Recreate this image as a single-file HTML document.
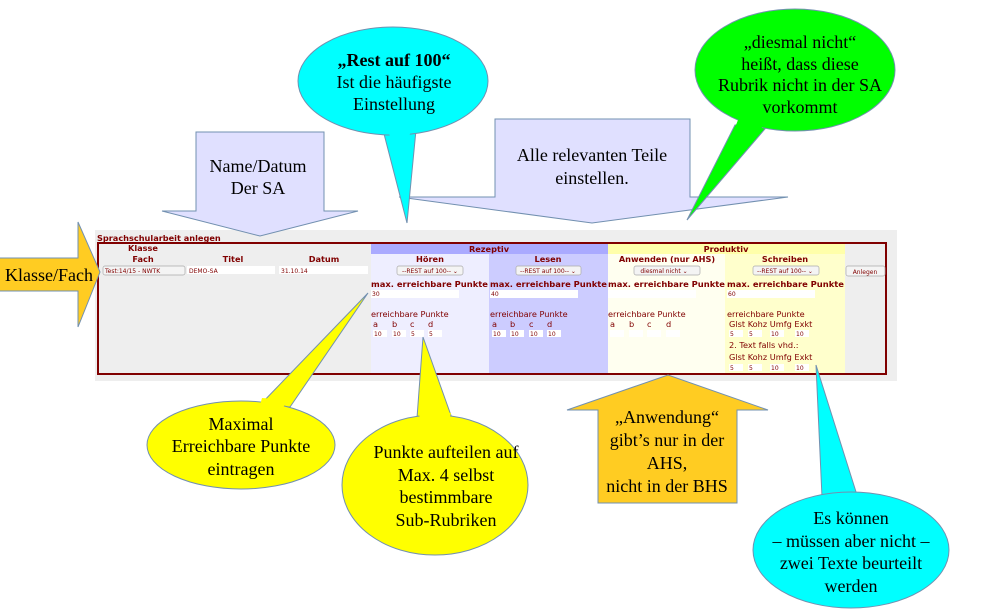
<!DOCTYPE html>
<html><head><meta charset="utf-8"><style>
html,body{margin:0;padding:0;background:#fff;width:988px;height:616px;overflow:hidden}
svg{display:block}
.s{font-family:"Liberation Serif",serif;font-size:18px;fill:#000;text-anchor:middle}
.t{font-family:"DejaVu Sans","Liberation Sans",sans-serif;font-size:8.2px;fill:#800000}
.b{font-weight:bold}
.c{text-anchor:middle}
.i{font-family:"DejaVu Sans",sans-serif;font-size:6px;fill:#800000}
</style></head><body>
<svg width="988" height="616" viewBox="0 0 988 616" xmlns="http://www.w3.org/2000/svg">
<rect x="95" y="230" width="802" height="151" fill="#eeeeee"/>
<text x="97" y="241" class="t b" font-size="9.5">Sprachschularbeit anlegen</text>
<rect x="371" y="244" width="237" height="10" fill="#aaaaff"/>
<rect x="608" y="244" width="237" height="10" fill="#ffffaa"/>
<rect x="371" y="254" width="118" height="120" fill="#eeeeff"/>
<rect x="489" y="254" width="119" height="120" fill="#ccccff"/>
<rect x="608" y="254" width="117" height="120" fill="#fffff0"/>
<rect x="725" y="254" width="120" height="120" fill="#ffffcc"/>
<rect x="98" y="243" width="788" height="131" fill="none" stroke="#800000" stroke-width="2"/>
<text x="489" y="252" class="t b c">Rezeptiv</text>
<text x="726" y="252" class="t b c">Produktiv</text>
<text x="143" y="251" class="t b c">Klasse</text>
<text x="143" y="262" class="t b c">Fach</text>
<text x="233" y="262" class="t b c">Titel</text>
<text x="324" y="262" class="t b c">Datum</text>
<text x="430" y="262" class="t b c">Hören</text>
<text x="548" y="262" class="t b c">Lesen</text>
<text x="667" y="262" class="t b c">Anwenden (nur AHS)</text>
<text x="785" y="262" class="t b c">Schreiben</text>
<g fill="#f4f4f4" stroke="#aaa" stroke-width="0.7">
<rect x="103" y="266" width="82" height="9" rx="2"/>
<rect x="397" y="266" width="66" height="9" rx="2"/>
<rect x="516" y="266" width="65" height="9" rx="2"/>
<rect x="634" y="266" width="66" height="9" rx="2"/>
<rect x="753" y="266" width="66" height="9" rx="2"/>
<rect x="846" y="266" width="39" height="10" rx="2"/>
</g>
<text x="105" y="273" class="i">Test:14/15 - NWTK</text>
<text x="430" y="273" class="i c">--REST auf 100-- ⌄</text>
<text x="548" y="273" class="i c">--REST auf 100-- ⌄</text>
<text x="664" y="273" class="i c" fill="#777">diesmal nicht ⌄</text>
<text x="785" y="273" class="i c">--REST auf 100-- ⌄</text>
<text x="865" y="274" class="i c" fill="#555">Anlegen</text>
<g fill="#fff">
<rect x="187" y="266" width="88" height="8"/>
<rect x="279" y="266" width="89" height="8"/>
<rect x="371" y="290" width="88" height="8"/>
<rect x="490" y="290" width="88" height="8"/>
<rect x="608" y="290" width="88" height="8"/>
<rect x="727" y="290" width="88" height="8"/>
</g>
<text x="189" y="273" class="i">DEMO-SA</text>
<text x="281" y="273" class="i">31.10.14</text>
<text x="371" y="287" class="t b" textLength="117" lengthAdjust="spacingAndGlyphs">max. erreichbare Punkte</text>
<text x="490" y="287" class="t b" textLength="117" lengthAdjust="spacingAndGlyphs">max. erreichbare Punkte</text>
<text x="608" y="287" class="t b" textLength="117" lengthAdjust="spacingAndGlyphs">max. erreichbare Punkte</text>
<text x="727" y="287" class="t b" textLength="117" lengthAdjust="spacingAndGlyphs">max. erreichbare Punkte</text>
<text x="372" y="296" class="i">30</text>
<text x="491" y="296" class="i">40</text>
<text x="728" y="296" class="i">60</text>
<text x="371" y="317" class="t">erreichbare Punkte</text>
<text x="490" y="317" class="t">erreichbare Punkte</text>
<text x="608" y="317" class="t">erreichbare Punkte</text>
<text x="727" y="317" class="t">erreichbare Punkte</text>
<g class="t">
<text x="373" y="327">a</text><text x="392" y="327">b</text><text x="410" y="327">c</text><text x="428" y="327">d</text>
<text x="492" y="327">a</text><text x="510" y="327">b</text><text x="529" y="327">c</text><text x="547" y="327">d</text>
<text x="610" y="327">a</text><text x="629" y="327">b</text><text x="647" y="327">c</text><text x="666" y="327">d</text>
</g>
<text x="729" y="327" class="t">Glst Kohz Umfg Exkt</text>
<text x="729" y="348" class="t">2. Text falls vhd.:</text>
<text x="729" y="360" class="t">Glst Kohz Umfg Exkt</text>
<g fill="#fff">
<rect x="373" y="330" width="14" height="7"/><rect x="392" y="330" width="14" height="7"/><rect x="410" y="330" width="14" height="7"/><rect x="428" y="330" width="14" height="7"/>
<rect x="492" y="330" width="14" height="7"/><rect x="510" y="330" width="14" height="7"/><rect x="529" y="330" width="14" height="7"/><rect x="547" y="330" width="14" height="7"/>
<rect x="610" y="330" width="14" height="7"/><rect x="629" y="330" width="14" height="7"/><rect x="647" y="330" width="14" height="7"/><rect x="666" y="330" width="14" height="7"/>
<rect x="729" y="330" width="14" height="7"/><rect x="748" y="330" width="14" height="7"/><rect x="770" y="330" width="14" height="7"/><rect x="795" y="330" width="14" height="7"/>
<rect x="729" y="364" width="14" height="7"/><rect x="748" y="364" width="14" height="7"/><rect x="770" y="364" width="14" height="7"/><rect x="795" y="364" width="14" height="7"/>
</g>
<g class="i" font-size="5.5">
<text x="374" y="336">10</text><text x="393" y="336">10</text><text x="411" y="336">5</text><text x="429" y="336">5</text>
<text x="493" y="336">10</text><text x="511" y="336">10</text><text x="530" y="336">10</text><text x="548" y="336">10</text>
<text x="730" y="336">5</text><text x="749" y="336">5</text><text x="771" y="336">10</text><text x="796" y="336">10</text>
<text x="730" y="370">5</text><text x="749" y="370">5</text><text x="771" y="370">10</text><text x="796" y="370">10</text>
</g>

<g stroke="#7290b0" stroke-width="1">
<path d="M196,132 H324 V211 H358 L260,236 L162,211 H196 Z" fill="#e0e0ff"/>
<path d="M495,119 H690 V197 H788 L592,223 L399,197 H495 Z" fill="#e0e0ff"/>
<path d="M0,258 H78 V222 L100,272 L78,327 V291 H0" fill="#ffcc22"/>
<path d="M598,503 V410 H567 L668,375 L768,410 H737 V503 Z" fill="#ffcc22"/>
<!-- tails -->
<polygon points="383,130 416,130 407,223" fill="#00ffff"/>
<polygon points="735,125 770,123 687,220" fill="#00ff00"/>
<polygon points="260,405 290,407 368,293" fill="#ffff00"/>
<polygon points="417,418 453,421 423,337" fill="#ffff00"/>
<polygon points="822,497 857,495 816,365" fill="#00ffff"/>
<ellipse cx="393" cy="81" rx="95" ry="54" fill="#00ffff"/>
<ellipse cx="795" cy="70" rx="100" ry="61" fill="#00ff00"/>
<ellipse cx="241" cy="445" rx="94" ry="44" fill="#ffff00"/>
<ellipse cx="435" cy="485" rx="93" ry="70" fill="#ffff00"/>
<ellipse cx="851" cy="550" rx="98" ry="58" fill="#00ffff"/>
</g>
<g stroke="none">
<polygon points="385,126 414,126 407,140 392,140" fill="#00ffff"/>
<polygon points="738,120 767,118 755,140 730,140" fill="#00ff00"/>
<polygon points="262,398 288,400 280,412 258,412" fill="#ffff00"/>
<polygon points="419,410 451,413 448,425 420,425" fill="#ffff00"/>
<polygon points="824,500 855,498 858,508 826,508" fill="#00ffff"/>
</g>
<text x="258" y="172" class="s">Name/Datum</text>
<text x="258" y="194" class="s">Der SA</text>
<text x="592" y="161" class="s">Alle relevanten Teile</text>
<text x="592" y="184" class="s">einstellen.</text>
<text x="394" y="66" class="s" font-weight="bold">„Rest auf 100“</text>
<text x="394" y="88" class="s">Ist die häufigste</text>
<text x="394" y="110" class="s">Einstellung</text>
<text x="800" y="48" class="s">„diesmal nicht“</text>
<text x="800" y="70" class="s">heißt, dass diese</text>
<text x="800" y="91" class="s">Rubrik nicht in der SA</text>
<text x="800" y="113" class="s">vorkommt</text>
<text x="49" y="281" class="s" font-size="19">Klasse/Fach</text>
<text x="241" y="430" class="s">Maximal</text>
<text x="241" y="452" class="s">Erreichbare Punkte</text>
<text x="241" y="475" class="s">eintragen</text>
<text x="446" y="458" class="s">Punkte aufteilen auf</text>
<text x="446" y="481" class="s">Max. 4 selbst</text>
<text x="446" y="503" class="s">bestimmbare</text>
<text x="446" y="526" class="s">Sub-Rubriken</text>
<text x="667" y="423" class="s">„Anwendung“</text>
<text x="667" y="446" class="s">gibt’s nur in der</text>
<text x="667" y="469" class="s">AHS,</text>
<text x="667" y="492" class="s">nicht in der BHS</text>
<text x="851" y="524" class="s">Es können</text>
<text x="851" y="547" class="s">– müssen aber nicht –</text>
<text x="851" y="569" class="s">zwei Texte beurteilt</text>
<text x="851" y="592" class="s">werden</text>
</svg>
</body></html>
